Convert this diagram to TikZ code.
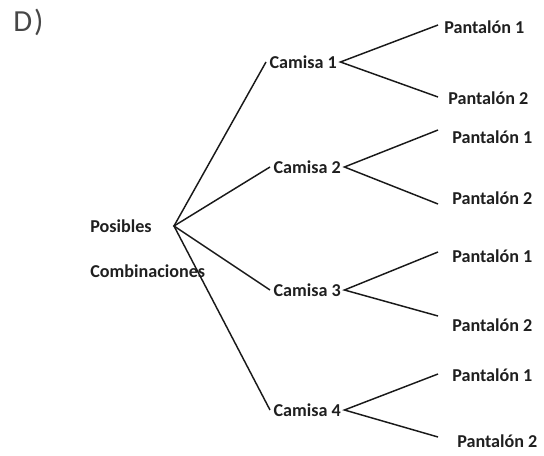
\documentclass[tikz,border=0pt]{standalone}
\usepackage{fontspec}
\setmainfont{Carlito}
\begin{document}
\begin{tikzpicture}[x=0.75pt,y=-0.75pt,
  lbl/.style={font=\fontsize{13.6}{16}\selectfont\bfseries, text=black!88, anchor=west, inner xsep=2.5pt, inner ysep=1pt},
  edge/.style={line width=1.1pt, black!90}]
\useasboundingbox (0,0) rectangle (544,456);
\node[font=\fontsize{23}{26}\selectfont, text=black!72, anchor=west, inner sep=0pt] (D) at (13,22) {D\kern1.5pt)};
\coordinate (root) at (174,226);
\coordinate (tip) at (438,0);
\node[lbl, inner xsep=0pt] (pos) at (90,226) {Posibles};
\node[lbl, inner xsep=0pt] (comb) at (90,271) {Combinaciones};
\node[lbl] (c1) at (266,62) {Camisa 1};
\node[lbl] (c2) at (270,167) {Camisa 2};
\node[lbl] (c3) at (270,290) {Camisa 3};
\node[lbl] (c4) at (270,410) {Camisa 4};
\node[lbl, inner xsep=0pt] (p11) at (444,27) {Pantalón 1};
\node[lbl, inner xsep=0pt] (p12) at (448,98) {Pantalón 2};
\node[lbl, inner xsep=0pt] (p21) at (452,137) {Pantalón 1};
\node[lbl, inner xsep=0pt] (p22) at (452,198) {Pantalón 2};
\node[lbl, inner xsep=0pt] (p31) at (452,256) {Pantalón 1};
\node[lbl, inner xsep=0pt] (p32) at (452,325) {Pantalón 2};
\node[lbl, inner xsep=0pt] (p41) at (452,375) {Pantalón 1};
\node[lbl, inner xsep=0pt] (p42) at (457,441) {Pantalón 2};
\draw[edge] (c1.west) -- (root) -- (c4.west);
\draw[edge] (c2.west) -- (root) -- (c3.west);
\draw[edge] (tip |- {(0,25)}) -- (c1.east) -- (tip |- {(0,97)});
\draw[edge] (tip |- {(0,130)}) -- (c2.east) -- (tip |- {(0,204)});
\draw[edge] (tip |- {(0,252)}) -- (c3.east) -- (tip |- {(0,316)});
\draw[edge] (tip |- {(0,374)}) -- (c4.east) -- (tip |- {(0,437)});
\end{tikzpicture}
\end{document}
